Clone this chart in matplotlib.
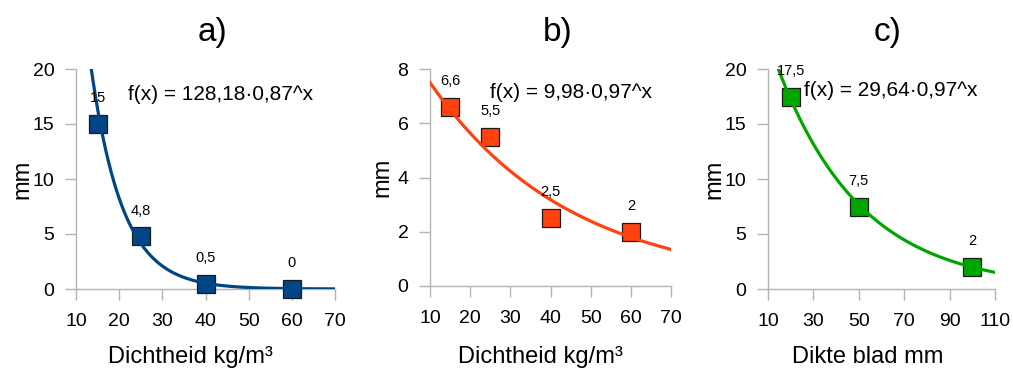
import numpy as np
import matplotlib
matplotlib.use("Agg")
import matplotlib.pyplot as plt

plt.rcParams['font.family'] = ['Liberation Sans', 'DejaVu Sans']

# ---- data ----
titles = ["a)", "b)", "c)"]
xlabels = ["Dichtheid kg/m³", "Dichtheid kg/m³", "Dikte blad mm"]
ylabel = "mm"

xa = [15, 25, 40, 60]
ya = [15, 4.8, 0.5, 0]
lab_a = ["15", "4,8", "0,5", "0"]
eq_a = "f(x) = 128,18·0,87^x"

xb = [15, 25, 40, 60]
yb = [6.6, 5.5, 2.5, 2]
lab_b = ["6,6", "5,5", "2,5", "2"]
eq_b = "f(x) = 9,98·0,97^x"

xc = [20, 50, 100]
yc = [17.5, 7.5, 2]
lab_c = ["17,5", "7,5", "2"]
eq_c = "f(x) = 29,64·0,97^x"

xticks_a = [10, 20, 30, 40, 50, 60, 70]
yticks_a = [0, 5, 10, 15, 20]
xticks_b = [10, 20, 30, 40, 50, 60, 70]
yticks_b = [0, 2, 4, 6, 8]
xticks_c = [10, 30, 50, 70, 90, 110]
yticks_c = [0, 5, 10, 15, 20]

colors = ["#004586", "#ff420e", "#00a600"]

W, H = 1013, 371
fig = plt.figure(figsize=(W / 100, H / 100), dpi=100)

def px_axes(l, r, t, b):
    return fig.add_axes([l / W, 1 - b / H, (r - l) / W, (b - t) / H])

def exp_trend(x, y):
    # exponential trendline fitted on the positive points (as a spreadsheet does)
    x = np.asarray(x, float); y = np.asarray(y, float)
    m = y > 0
    slope, icpt = np.polyfit(x[m], np.log(y[m]), 1)
    return np.exp(icpt), np.exp(slope)

panels = [
    dict(box=(76, 335, 69, 289), x=xa, y=ya, lab=lab_a, eq=eq_a,
         xt=xticks_a, yt=yticks_a, eqpos=(128, 95), title_x=212, ylab_x=22, xlab_x=190),
    dict(box=(430, 671, 69, 286), x=xb, y=yb, lab=lab_b, eq=eq_b,
         xt=xticks_b, yt=yticks_b, eqpos=(490, 92), title_x=558, ylab_x=382, xlab_x=540),
    dict(box=(768, 995, 69, 289), x=xc, y=yc, lab=lab_c, eq=eq_c,
         xt=xticks_c, yt=yticks_c, eqpos=(804, 90), title_x=888, ylab_x=714, xlab_x=868),
]

gray = "#b3b3b3"
for i, p in enumerate(panels):
    l, r, t, b = p["box"]
    ax = px_axes(l, r, t, b)
    xt, yt = p["xt"], p["yt"]
    ax.set_xlim(xt[0], xt[-1])
    ax.set_ylim(yt[0], yt[-1])
    ax.set_xticks(xt)
    ax.set_yticks(yt)
    for s in ["top", "right"]:
        ax.spines[s].set_visible(False)
    for s in ["left", "bottom"]:
        ax.spines[s].set_color(gray)
        ax.spines[s].set_linewidth(1.0)
    ax.tick_params(axis="both", direction="out", length=8, width=1.0, color=gray,
                   labelsize=14, labelcolor="black")
    ax.tick_params(axis="x", pad=9)
    ax.tick_params(axis="y", pad=7.5)
    # trend curve
    a, bb = exp_trend(p["x"], p["y"])
    xs = np.linspace(xt[0], xt[-1], 400)
    ys = a * bb ** xs
    ax.plot(xs, ys, color=colors[i], lw=2.3, zorder=4, clip_on=True)
    # points
    ax.plot(p["x"], p["y"], linestyle="none", marker="s", markersize=13.5,
            markerfacecolor=colors[i], markeredgecolor="#1a1a1a", markeredgewidth=0.9,
            zorder=3, clip_on=False)
    for xv, yv, lb in zip(p["x"], p["y"], p["lab"]):
        ax.annotate(lb, (xv, yv), xytext=(0, 18.5), textcoords="offset points",
                    ha="center", va="center", fontsize=10.5, zorder=6, annotation_clip=False)
    fig.text(p["eqpos"][0] / W, 1 - p["eqpos"][1] / H, p["eq"],
             ha="left", va="center", fontsize=15, zorder=7)
    # titles and axis labels in figure pixels
    fig.text(p["title_x"] / W, 1 - 33 / H, titles[i], ha="center", va="center", fontsize=24)
    fig.text(p["xlab_x"] / W, 1 - 357 / H, xlabels[i], ha="center", va="center", fontsize=17)
    fig.text(p["ylab_x"] / W, 1 - ((t + b) / 2) / H, ylabel, ha="center", va="center",
             fontsize=17, rotation=90)

fig.savefig("out.png", dpi=100)
